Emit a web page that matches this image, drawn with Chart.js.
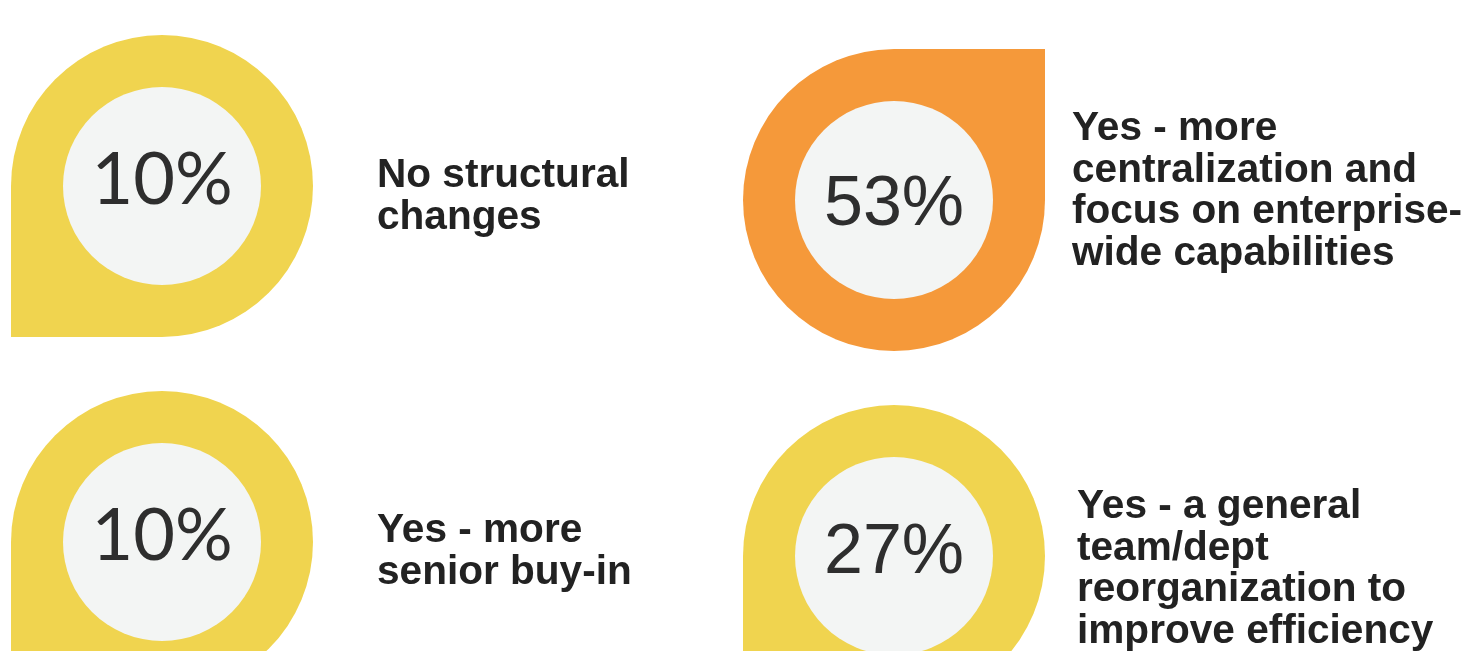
<!DOCTYPE html>
<html>
<head>
<meta charset="utf-8">
<script src="https://cdn.jsdelivr.net/npm/chart.js@4/dist/chart.umd.min.js"></script>
<style>
  html, body { margin: 0; padding: 0; background: #ffffff; }
  #wrap { width: 1464px; height: 651px; position: relative; }
</style>
</head>
<body>
<div id="wrap"><canvas id="drops"></canvas></div>
<script>
// Survey answers, one line per wrapped row of the label
const categories = [
  ['No structural', 'changes'],
  ['Yes - more', 'centralization and', 'focus on enterprise-', 'wide capabilities'],
  ['Yes - more', 'senior buy-in'],
  ['Yes - a general', 'team/dept', 'reorganization to', 'improve efficiency']
];
const shares = [10, 53, 10, 27];

// Where each drop sits on the page (page pixels), which corner stays square,
// and baseline offset of the percentage inside it
const layout = [
  { x: 162, y: 186, turn: 0,   textDy: 18, labelX: 377,  labelY: 187, font: '72px Lato' },
  { x: 894, y: 200, turn: 180, textDy: 25, labelX: 1072, labelY: 140, font: '70px "Liberation Sans"' },
  { x: 162, y: 542, turn: 0,   textDy: 18, labelX: 377,  labelY: 542, font: '72px Lato' },
  { x: 894, y: 556, turn: 0,   textDy: 17, labelX: 1077, labelY: 518, font: '70px "Liberation Sans"' }
];

const YELLOW = '#f0d44f';
const ORANGE = '#f5993a';
const INNER = '#f3f5f4';
const DROP_R = 151;
const INNER_R = 99;

// circle with one square corner (bottom-left before rotation)
const makeDrop = (color) => {
  const c = document.createElement('canvas');
  c.width = DROP_R * 2;
  c.height = DROP_R * 2;
  const g = c.getContext('2d');
  g.fillStyle = color;
  g.beginPath();
  g.moveTo(0, DROP_R);
  g.arc(DROP_R, DROP_R, DROP_R, Math.PI, 0);
  g.arc(DROP_R, DROP_R, DROP_R, 0, Math.PI / 2);
  g.lineTo(0, DROP_R * 2);
  g.closePath();
  g.fill();
  return c;
};

const maxShare = Math.max(...shares);
const dropStyles = shares.map(v => makeDrop(v === maxShare ? ORANGE : YELLOW));
const points = layout.map((p, i) => ({ x: p.x, y: p.y, share: shares[i] }));

const textPlugin = {
  id: 'dropText',
  afterDatasetsDraw(chart) {
    const ctx = chart.ctx;
    const meta = chart.getDatasetMeta(1);
    meta.data.forEach((el, i) => {
      const p = layout[i];
      ctx.save();
      ctx.textBaseline = 'alphabetic';
      ctx.fillStyle = '#2e2e2e';
      ctx.textAlign = 'center';
      ctx.font = p.font;
      ctx.fillText(shares[i] + '%', el.x, el.y + p.textDy);

      ctx.fillStyle = '#222222';
      ctx.textAlign = 'left';
      ctx.font = 'bold 40.6px "Liberation Sans", Arial, sans-serif';
      categories[i].forEach((line, k) => {
        ctx.fillText(line, p.labelX, p.labelY + k * 41.5);
      });
      ctx.restore();
    });
  }
};

new Chart(document.getElementById('drops'), {
  type: 'scatter',
  data: {
    datasets: [
      {
        data: points,
        pointStyle: dropStyles,
        pointRotation: layout.map(p => p.turn),
        pointRadius: DROP_R,
        clip: false,
        order: 2
      },
      {
        data: points,
        pointStyle: 'circle',
        pointRadius: INNER_R,
        pointBackgroundColor: INNER,
        pointBorderWidth: 0,
        clip: false,
        order: 1
      }
    ]
  },
  options: {
    responsive: true,
    maintainAspectRatio: false,
    animation: false,
    events: [],
    layout: { padding: 0, autoPadding: false },
    plugins: {
      legend: { display: false },
      tooltip: { enabled: false }
    },
    scales: {
      x: { type: 'linear', min: 0, max: 1464, display: false },
      y: { type: 'linear', min: 0, max: 651, reverse: true, display: false }
    }
  },
  plugins: [textPlugin]
});
</script>
</body>
</html>
